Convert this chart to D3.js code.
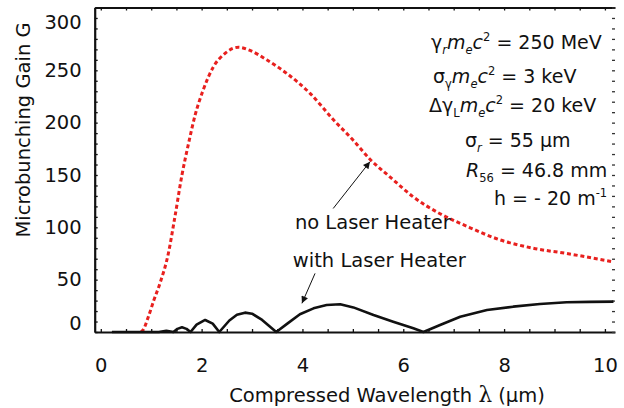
<!DOCTYPE html>
<html><head><meta charset="utf-8">
<script src="https://cdn.jsdelivr.net/npm/d3@7"></script>
<style>
html,body{margin:0;padding:0;background:#fff;}
svg{display:block;font-family:"DejaVu Sans",sans-serif;}
</style></head>
<body><svg id="c" width="624" height="408"></svg>
<script>
// ---- data ----
const lambdaNoLH = [0.80,0.84,0.94,1.05,1.17,1.34,1.47,1.61,1.74,1.87,2.03,2.23,2.46,2.73,2.96,3.29,3.69,4.15,4.61,5.01,5.34,5.74,6.20,6.73,7.26,7.92,8.58,9.24,10.17];
const gainNoLH   = [0,2,14,30,46,75,110,150,180,207,231,253,266,272,269,260,247,228,203,183,165,148,129,113,101,88,80,75,67];
const lambdaLH = [0.22,1.15,1.30,1.44,1.52,1.61,1.70,1.78,1.90,2.07,2.22,2.35,2.55,2.70,2.86,3.00,3.20,3.48,3.70,3.95,4.22,4.48,4.75,5.01,5.41,5.80,6.20,6.40,6.73,7.13,7.66,8.18,8.71,9.24,9.70,10.17];
const gainLH   = [0,0,1.2,0,3,4.5,3,0,7,11.5,8,0,11,16.5,18.5,17.5,11.5,0,8,17,22.6,25.8,26.5,23.5,16.2,9.8,3.5,0,6.7,14.6,21,24.2,26.7,28.4,28.8,29];
const xTickLabels = [0,2,4,6,8,10];
const yTickLabels = [0,50,100,150,200,250,300];
const xMinorTicks = d3.range(0,10.01,0.5);
const yMinorTicks = d3.range(0,311,10);

const svg = d3.select("#c");
const x = d3.scaleLinear().domain([-0.121,10.20]).range([94.7,615]);
const y = d3.scaleLinear().domain([0,310]).range([332,7.5]);
const FS = 19.5;
const PFS = 19;
const ink = "#111";

// frame / axes
const frameStyle = g => { g.select(".domain").attr("stroke",ink).attr("stroke-width",2.2); g.selectAll(".tick line").attr("stroke",ink).attr("stroke-width",1.3); };
svg.append("g").attr("transform","translate(0,332)")
  .call(d3.axisBottom(x).tickValues(xMinorTicks).tickSizeInner(-3).tickSizeOuter(0).tickFormat(""))
  .call(frameStyle);
svg.append("g").attr("transform","translate(0,7.5)")
  .call(d3.axisTop(x).tickValues(xMinorTicks).tickSizeInner(-3).tickSizeOuter(0).tickFormat(""))
  .call(frameStyle);
svg.append("g").attr("transform","translate(94.7,0)")
  .call(d3.axisLeft(y).tickValues(yMinorTicks).tickSizeInner(-3).tickSizeOuter(0).tickFormat(""))
  .call(frameStyle);
svg.append("g").attr("transform","translate(615,0)")
  .call(d3.axisRight(y).tickValues(yMinorTicks).tickSizeInner(-3).tickSizeOuter(0).tickFormat(""))
  .call(g => { g.select(".domain").remove(); g.selectAll(".tick line").attr("stroke","#333").attr("stroke-width",1.3); });

// tick labels
const xl = svg.append("g").attr("transform","translate(0,332)")
  .call(d3.axisBottom(x).tickValues(xTickLabels).tickSize(0).tickPadding(26).tickFormat(d3.format("d")));
xl.select(".domain").remove();
xl.selectAll("text").attr("font-size",FS).attr("font-family","DejaVu Sans").attr("fill",ink);
const yl = svg.append("g").attr("transform","translate(94.7,0)")
  .call(d3.axisLeft(y).tickValues(yTickLabels).tickSize(0).tickPadding(13).tickFormat(d3.format("d")));
yl.select(".domain").remove();
yl.selectAll("text").attr("font-size",FS).attr("font-family","DejaVu Sans").attr("fill",ink)
  .attr("y", d => d===0 ? -9 : (d===300 ? 4 : 0));

// axis titles
const xt = svg.append("text").attr("x",387).attr("y",402).attr("text-anchor","middle")
  .attr("font-size",FS).attr("fill",ink);
xt.append("tspan").text("Compressed Wavelength ");
xt.append("tspan").attr("font-family","DejaVu Serif").attr("font-size",FS+2).text("λ");
xt.append("tspan").text(" (μm)");
svg.append("text").attr("transform","translate(29.5,130) rotate(-90)").attr("text-anchor","middle")
  .attr("font-size",FS).attr("fill",ink).text("Microbunching Gain G");

// curves
const lineNoLH = d3.line().x((d,i)=>x(lambdaNoLH[i])).y((d,i)=>y(gainNoLH[i])).curve(d3.curveMonotoneX);
svg.append("path").attr("d", lineNoLH(gainNoLH)).attr("fill","none").attr("stroke","#e8201e")
  .attr("stroke-width",3).attr("stroke-dasharray","4,2.8");
const lineLH = d3.line().x((d,i)=>x(lambdaLH[i])).y((d,i)=>y(gainLH[i]));
svg.append("path").attr("d", lineLH(gainLH)).attr("fill","none").attr("stroke",ink)
  .attr("stroke-width",2.6).attr("stroke-linejoin","round");

// arrows + labels
svg.append("defs").append("marker").attr("id","ah").attr("viewBox","0 0 10 10").attr("refX",10).attr("refY",5)
  .attr("markerWidth",9).attr("markerHeight",7).attr("markerUnits","userSpaceOnUse").attr("orient","auto")
  .append("path").attr("d","M0,0L10,5L0,10z").attr("fill",ink);
function arrow(l1,g1,l2,g2){
  svg.append("line").attr("x1",x(l1)).attr("y1",y(g1)).attr("x2",x(l2)).attr("y2",y(g2))
    .attr("stroke",ink).attr("stroke-width",1).attr("marker-end","url(#ah)");
}
arrow(4.61,118,5.34,162.7);
arrow(4.25,56,3.99,27.4);
svg.append("text").attr("x",x(3.85)).attr("y",y(98.4)).attr("font-size",FS).attr("fill",ink).text("no Laser Heater");
svg.append("text").attr("x",x(3.81)).attr("y",y(62.4)).attr("font-size",FS).attr("fill",ink).text("with Laser Heater");

// parameter block
const SUB = 11.5;
function param(x0, yb, parts){
  const t = svg.append("text").attr("x",x0).attr("y",yb).attr("font-size",PFS).attr("fill",ink);
  let shift = 0;
  parts.forEach(p => {
    const s = t.append("tspan").text(p.t);
    let target = 0;
    if (p.sub) { s.attr("font-size",SUB); target = 5; }
    if (p.sup) { s.attr("font-size",SUB); target = -8; }
    if (p.i) s.attr("font-style","italic");
    s.attr("dy", target - shift); shift = target;
  });
}
param(431, 49.3, [{t:"γ"},{t:"r",sub:1,i:1},{t:"m",i:1},{t:"e",sub:1,i:1},{t:"c",i:1},{t:"2",sup:1},{t:" = 250 MeV"}]);
param(433, 82.7, [{t:"σ"},{t:"γ",sub:1},{t:"m",i:1},{t:"e",sub:1,i:1},{t:"c",i:1},{t:"2",sup:1},{t:" = 3 keV"}]);
param(429, 111.7,[{t:"Δγ"},{t:"L",sub:1},{t:"m",i:1},{t:"e",sub:1,i:1},{t:"c",i:1},{t:"2",sup:1},{t:" = 20 keV"}]);
param(465, 146.7,[{t:"σ"},{t:"r",sub:1,i:1},{t:" = 55 μm"}]);
param(466, 176.7,[{t:"R",i:1},{t:"56",sub:1},{t:" = 46.8 mm"}]);
param(494, 205,  [{t:"h = - 20 m"},{t:"-1",sup:1}]);
</script></body></html>
